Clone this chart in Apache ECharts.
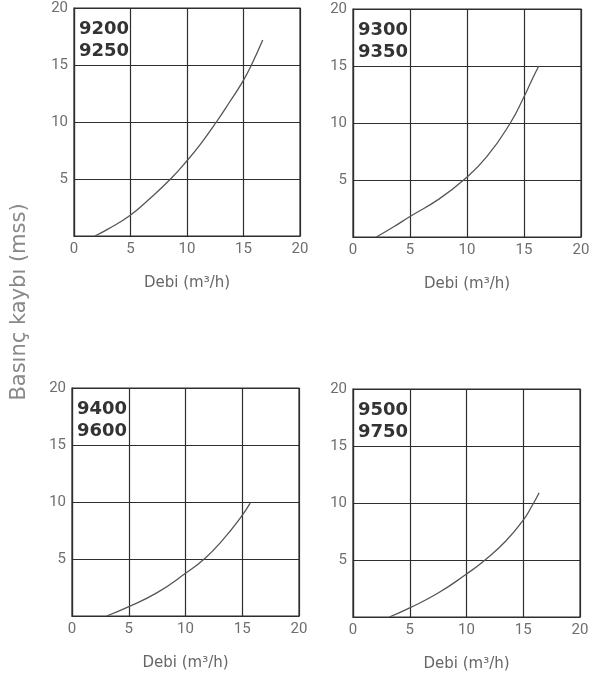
<!DOCTYPE html>
<html><head><meta charset="utf-8">
<script src="https://cdn.jsdelivr.net/npm/echarts@6/dist/echarts.min.js"></script>
<style>html,body{margin:0;padding:0;background:#fff}#c{width:606px;height:679px}</style>
</head><body><div id="c"></div>
<script>
const modelLabels = [["9200","9250"],["9300","9350"],["9400","9600"],["9500","9750"]];
const curve1 = [[1.85,0],[3,0.6],[4.95,1.8],[6.5,3.1],[8.5,4.95],[10,6.6],[11.3,8.2],[12.6,10],[13.8,11.8],[14.9,13.5],[15.7,15],[16.7,17.2]];
const curve2 = [[2.05,0],[3.5,0.85],[5,1.8],[7.5,3.3],[9.7,5],[11.7,7],[13.8,10],[15,12.3],[15.7,13.8],[16.3,15]];
const curve3 = [[3.05,0],[4.96,0.8],[7.5,2.05],[9.94,3.7],[11.7,5.05],[13.3,6.7],[14.9,8.7],[15.7,9.9]];
const curve4 = [[3.2,0],[5,0.8],[7.5,2.1],[9.97,3.75],[11.5,4.9],[13.4,6.6],[15,8.5],[15.8,9.8],[16.4,10.9]];
const curves = [curve1, curve2, curve3, curve4];
const xName = "Debi (m³/h)";
const yName = "Basınç kaybı (mss)";

const grids = [
  {left:74, top:8, width:226, height:228},
  {left:353, top:9, width:228, height:228},
  {left:72, top:388, width:227, height:228},
  {left:353, top:389, width:227, height:228}
];
const tickFont = "'Roboto', sans-serif";
const wideFont = "'DejaVu Sans', sans-serif";
const lineCol = "#2e2e2e";
const textCol = "#6e6e6e";

const option = {
  backgroundColor:"#fff",
  animation:false,
  grid: grids.map(g => Object.assign({containLabel:false, show:true, borderColor:lineCol, borderWidth:1.2, backgroundColor:"#fff"}, g)),
  xAxis: grids.map((g,i)=>({
    type:"value", gridIndex:i, min:0, max:20, interval:5,
    name:xName, nameLocation:"middle", nameGap:40,
    nameTextStyle:{fontFamily:wideFont, fontSize:15, color:"#666"},
    axisLine:{show:true, lineStyle:{color:lineCol, width:1.2}},
    axisTick:{show:false},
    axisLabel:{fontFamily:tickFont, fontSize:15, color:textCol, margin:6},
    splitLine:{show:true, lineStyle:{color:lineCol, width:1.2}}
  })),
  yAxis: grids.map((g,i)=>({
    type:"value", gridIndex:i, min:0, max:20, interval:5,
    axisLine:{show:true, lineStyle:{color:lineCol, width:1.2}},
    axisTick:{show:false},
    axisLabel:{fontFamily:tickFont, fontSize:15, color:textCol, margin:6,
      formatter:v => v===0 ? "" : String(v)},
    splitLine:{show:true, lineStyle:{color:lineCol, width:1.2}}
  })),
  title: modelLabels.map((m,i)=>({
    text: m.join("\n"),
    left: grids[i].left, top: grids[i].top + 5,
    textStyle:{fontFamily:wideFont, fontSize:18, fontWeight:"bold", color:"#333", lineHeight:22}
  })),
  graphic:[{
    type:"text", x:20, y:302, rotation:Math.PI/2,
    style:{text:yName, fontFamily:wideFont, fontSize:21, fill:"#888", align:"center", verticalAlign:"middle"}
  }],
  series: curves.map((c,i)=>({
    type:"line", xAxisIndex:i, yAxisIndex:i, data:c, smooth:0.5,
    showSymbol:false, symbol:"none",
    lineStyle:{color:"#555", width:1.3}
  }))
};
const chart = echarts.init(document.getElementById("c"), null, {renderer:"canvas"});
chart.setOption(option);
</script></body></html>
